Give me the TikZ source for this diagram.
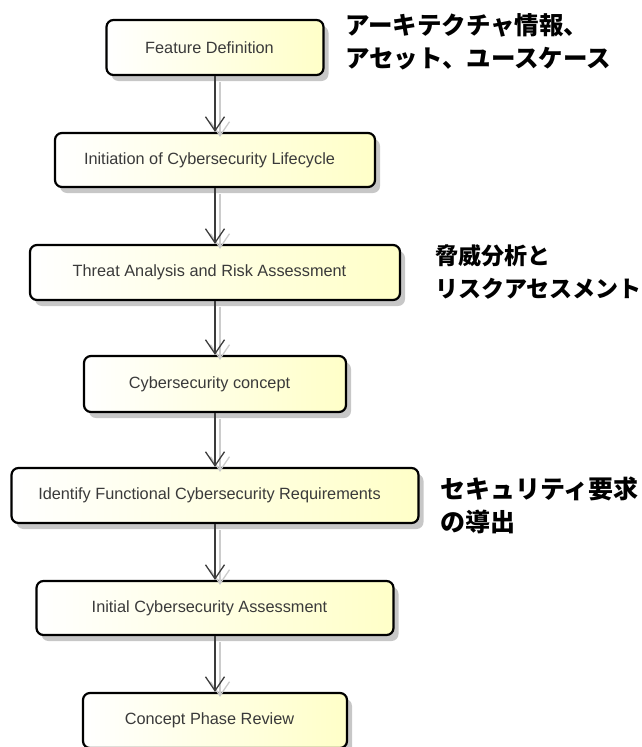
\documentclass[tikz,border=0pt]{standalone}
\usepackage{fontspec}
\setmainfont{Liberation Sans}
\newfontfamily\jp{Noto Sans CJK JP}
\usetikzlibrary{arrows.meta,shadows}

\definecolor{boxtext}{HTML}{3A3A3A}
\definecolor{boxyellow}{HTML}{FFFFC8}
\definecolor{flowline}{HTML}{3C3C3C}

\tikzset{
  stepbox/.style={
    draw=black, line width=2.2pt, rounded corners=7pt,
    left color=white, right color=boxyellow,
    drop shadow={shadow xshift=5pt, shadow yshift=-6pt, fill=black!22, opacity=1},
    text=boxtext, font=\fontsize{16.3}{19}\selectfont,
    inner sep=0pt,
    execute at end node={\hspace*{11pt}}
  },
  flow/.style={draw=flowline, line width=1.5pt,
    -{Straight Barb[length=14pt,width=19pt,line width=1.3pt]}},
  flowshadow/.style={draw=black!20, line width=1.5pt,
    -{Straight Barb[length=14pt,width=19pt,line width=1.3pt]}},
  note/.style={font=\jp\bfseries, align=left, anchor=west, inner sep=0pt, text=black}
}

\begin{document}
\begin{tikzpicture}[x=1pt,y=-1pt]
\useasboundingbox (0,0) rectangle (642,747);

% process steps
\node[stepbox, minimum width=217pt, minimum height=55pt] (fd)  at (215,47.5)  {Feature Definition};
\node[stepbox, minimum width=320pt, minimum height=54pt] (icl) at (215,160)   {Initiation of Cybersecurity Lifecycle};
\node[stepbox, minimum width=370pt, minimum height=55pt] (tara) at (215,272.5) {Threat Analysis and Risk Assessment};
\node[stepbox, minimum width=262pt, minimum height=56pt] (cc)  at (215,384)   {Cybersecurity concept};
\node[stepbox, minimum width=407pt, minimum height=55pt] (ifr) at (215,495.5) {Identify Functional Cybersecurity Requirements};
\node[stepbox, minimum width=357pt, minimum height=54pt] (ica) at (215,608)   {Initial Cybersecurity Assessment};
\node[stepbox, minimum width=264pt, minimum height=55pt] (cpr) at (215,720.5) {Concept Phase Review};

% soft shadows of the connectors
\foreach \a/\b in {fd/icl, icl/tara, tara/cc, cc/ifr, ifr/ica, ica/cpr}
  \draw[flowshadow] ([xshift=5pt,yshift=-6pt]\a.south) -- ([xshift=5pt,yshift=-5pt]\b.north);

% connectors
\draw[flow] (fd.south)   -- (icl.north);
\draw[flow] (icl.south)  -- (tara.north);
\draw[flow] (tara.south) -- (cc.north);
\draw[flow] (cc.south)   -- (ifr.north);
\draw[flow] (ifr.south)  -- (ica.north);
\draw[flow] (ica.south)  -- (cpr.north);

% annotations
\node[note, font=\jp\bfseries\fontsize{24.5}{33}\selectfont] (n1) at (345,41.5)
  {アーキテクチャ情報、\\アセット、ユースケース};
\node[note, font=\jp\bfseries\fontsize{23}{33}\selectfont] (n2) at (435,272)
  {脅威分析と\\リスクアセスメント};
\node[note, font=\jp\bfseries\fontsize{25}{33}\selectfont] (n3) at (440,505)
  {セキュリティ要求\\の導出};
\end{tikzpicture}
\end{document}
